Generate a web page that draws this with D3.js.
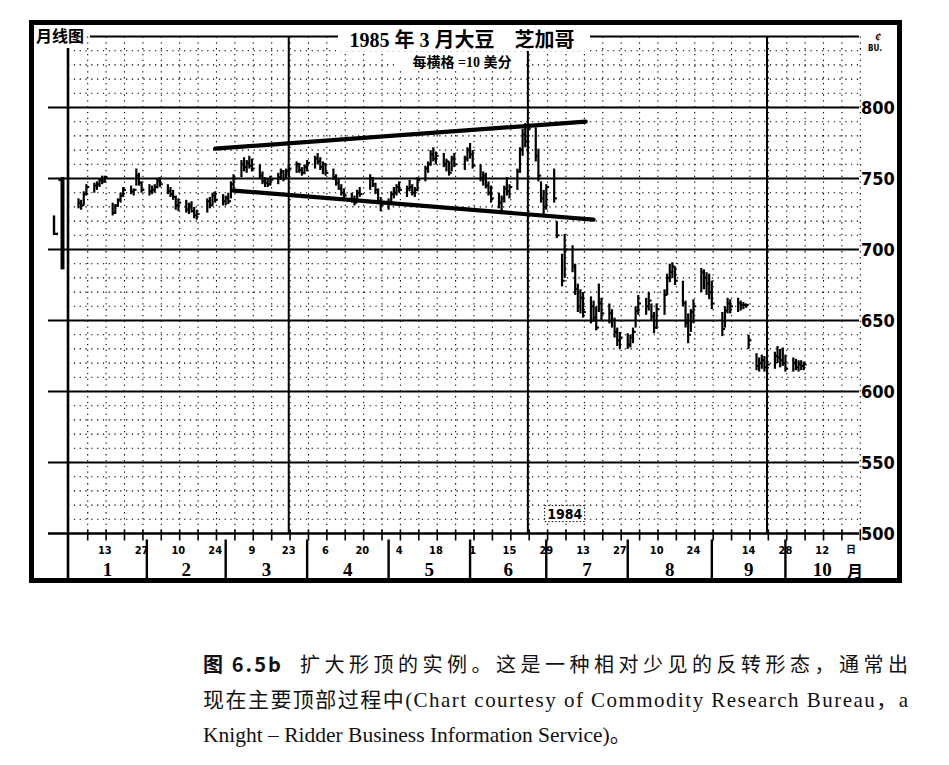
<!DOCTYPE html>
<html><head><meta charset="utf-8">
<script src="https://cdn.jsdelivr.net/npm/d3@7/dist/d3.min.js"></script>
<style>body{margin:0;background:#fff}</style>
</head><body><svg id="c" width="949" height="765"></svg>
<script>
// ---- data (1984 daily bars, March 1985 soybeans, cents/bu) ----
const dates = [
"1-3","1-4","1-5","1-6",
"1-9","1-10","1-11","1-12","1-13",
"1-16","1-17","1-18","1-19","1-20",
"1-23","1-24","1-25","1-26","1-27",
"1-30","1-31","2-1","2-2","2-3",
"2-6","2-7","2-8","2-9","2-10",
"2-13","2-14","2-15","2-16","2-17",
"2-21","2-22","2-23","2-24",
"2-27","2-28","2-29","3-1","3-2",
"3-5","3-6","3-7","3-8","3-9",
"3-12","3-13","3-14","3-15","3-16",
"3-19","3-20","3-21","3-22","3-23",
"3-26","3-27","3-28","3-29","3-30",
"4-2","4-3","4-4","4-5","4-6",
"4-9","4-10","4-11","4-12","4-13",
"4-16","4-17","4-18","4-19",
"4-23","4-24","4-25","4-26","4-27",
"4-30","5-1","5-2","5-3","5-4",
"5-7","5-8","5-9","5-10","5-11",
"5-14","5-15","5-16","5-17","5-18",
"5-21","5-22","5-23","5-24","5-25",
"5-29","5-30","5-31","6-1",
"6-4","6-5","6-6","6-7","6-8",
"6-11","6-12","6-13","6-14","6-15",
"6-18","6-19","6-20","6-21","6-22",
"6-25","6-26","6-27","6-28","6-29",
"7-2","7-3","7-5","7-6",
"7-9","7-10","7-11","7-12","7-13",
"7-16","7-17","7-18","7-19","7-20",
"7-23","7-24","7-25","7-26","7-27",
"7-30","7-31","8-1","8-2","8-3",
"8-6","8-7","8-8","8-9","8-10",
"8-13","8-14","8-15","8-16","8-17",
"8-20","8-21","8-22","8-23","8-24",
"8-27","8-28","8-29","8-30","8-31",
"9-4","9-5","9-6","9-7",
"9-10","9-11","9-12","9-13","9-14",
"9-17","9-18","9-19","9-20","9-21",
"9-24","9-25","9-26","9-27","9-28",
"10-1","10-2","10-3","10-4","10-5"];
const highs = [
736,735,741,746,
747,748,750,752,752,
733,732,736,740,744,
745,743,757,754,748,
746,745,746,750,751,
746,744,742,738,736,
735,733,734,730,728,
736,737,740,741,
739,738,740,748,753,
763,765,763,766,764,
760,755,751,750,752,
754,757,756,757,760,
762,761,758,760,763,
766,768,765,762,761,
757,753,750,746,743,
740,738,742,744,
753,751,747,743,737,
736,741,744,746,748,
745,749,746,744,751,
759,762,770,772,769,
768,764,762,766,768,
766,772,775,770,
760,755,754,748,745,
740,738,745,751,746,
757,772,785,789,788,
786,771,748,742,746,
757,720,697,711,
703,690,676,672,670,
667,664,660,676,666,
662,658,652,645,642,
641,640,645,660,668,
666,670,662,656,662,
672,683,690,691,688,
678,664,655,658,665,
687,686,684,683,678,
656,660,666,665,
666,664,663,662,640,
627,624,626,625,622,
628,632,630,631,626,
624,623,622,622,621];
const lows = [
729,728,731,738,
740,742,744,746,747,
724,725,730,733,737,
739,738,745,745,740,
738,739,740,743,744,
739,737,735,728,727,
726,725,726,722,721,
726,729,731,733,
731,731,732,736,742,
751,755,754,757,755,
750,746,744,744,745,
746,749,748,750,752,
754,754,752,753,755,
757,760,756,753,752,
749,745,742,738,735,
733,731,734,737,
742,744,739,732,727,
728,732,736,738,740,
737,741,738,737,741,
748,754,759,762,760,
758,755,752,755,758,
756,762,764,757,
748,745,743,738,733,
729,727,733,738,736,
742,754,766,772,768,
762,748,733,725,728,
733,708,674,680,
684,668,656,655,652,
648,649,643,656,650,
648,645,638,632,630,
630,631,634,645,654,
654,657,650,641,644,
654,668,677,680,675,
660,645,634,642,648,
670,672,668,665,658,
639,645,655,655,
656,657,658,659,630,
615,614,616,614,613,
616,620,617,618,614,
614,615,614,615,615];
const closes = [
733,731,739,744,
745,746,749,748,751,
726,731,735,738,742,
741,742,752,747,742,
741,742,744,748,746,
741,739,737,731,733,
728,731,727,724,725,
734,731,738,735,
734,736,734,746,750,
760,758,761,759,757,
752,748,747,746,749,
751,755,750,755,757,
760,756,754,758,761,
764,762,758,760,754,
751,747,743,740,738,
735,733,740,739,
750,746,742,734,731,
733,739,740,744,742,
743,744,740,742,749,
757,760,767,764,766,
760,762,754,764,760,
764,770,767,759,
750,752,745,740,736,
733,736,743,741,744,
755,770,781,776,785,
766,752,736,730,744,
736,710,678,700,
688,672,660,666,656,
660,652,645,662,655,
655,650,642,636,638,
633,638,642,657,662,
660,664,653,645,658,
668,680,684,688,678,
662,648,640,656,660,
684,680,676,670,662,
644,657,662,660,
662,661,661,661,636,
618,620,622,617,619,
625,624,622,620,616,
620,617,619,618,619];

// monthly inset (月线图): previous two months
const monthlyKeys = ["m1","m2"];
const monthlyHigh = [724, 751];
const monthlyLow = [711, 686];
const monthlyClose = [711, null];
const monthlyOpen = [null, 749];

const priceTicks = [500,550,600,650,700,750,800];
const dayLabelDates = ["1-13","1-27","2-10","2-24","3-9","3-23","4-6","4-20","5-4","5-18","6-1","6-15","6-29","7-13","7-27","8-10","8-24","9-14","9-28","10-12"];
const monthNames = ["1","2","3","4","5","6","7","8","9","10"];
const monthBounds = ["1983-12-30","1984-01-29","1984-02-28","1984-03-30","1984-04-30","1984-05-31","1984-06-29","1984-07-30","1984-08-31","1984-09-28","1984-10-26"];
const quarterLines = ["3-23","6-22","9-21"];
const trendUpper = [["2-24",771],["7-14",790]];
const trendLower = [["3-02",741.5],["7-17",721]];
const yearLabel = {date:"7-6", price:514, text:"1984"};

const title = "1985 年 3 月大豆　芝加哥";
const subtitle = "每横格 =10 美分";
const captionFig = "图 6.5b";
const captionLine1 = "扩大形顶的实例。这是一种相对少见的反转形态，通常出";
const captionLine2 = "现在主要顶部过程中(Chart courtesy of Commodity Research Bureau，a";
const captionLine3 = "Knight – Ridder Business Information Service)。";

// ---- helpers ----
const pd = s => { const [m,d] = s.split("-").map(Number); return new Date(1984, m-1, d, 12); };
const pdf = s => { const [y,m,d] = s.split("-").map(Number); return new Date(y, m-1, d, 12); };
const bars = dates.map((s,i)=>({d:pd(s),h:highs[i],l:lows[i],c:closes[i]}));

const svg = d3.select("#c");
const x = d3.scaleTime().domain([new Date(1983,11,30,12), new Date(1984,9,26,12)]).range([68, 859]);
const y = d3.scaleLinear().domain([500, 850]).range([533.5, 36.5]);
const xLeftExt = 48;

const fridays = d3.timeDay.range(new Date(1984,0,6,12), new Date(1984,9,27,12), 7);

const serif = "'Liberation Serif','Noto Sans CJK SC',serif";
const cjk = "'Noto Sans CJK SC','Liberation Serif',sans-serif";
const cond = "'Liberation Sans Narrow','DejaVu Sans Condensed','Liberation Sans',sans-serif";

// frame
svg.append("rect").attr("x",31.5).attr("y",22.5).attr("width",868).attr("height",558)
  .attr("fill","none").attr("stroke","#000").attr("stroke-width",5);

const g = svg.append("g");

// minor horizontal dotted (every 10c)
const minor = d3.range(510, 850, 10).filter(v => v % 50 !== 0);
g.selectAll(".hm").data(minor).join("line")
  .attr("x1",68).attr("x2",859).attr("y1",d=>y(d)).attr("y2",d=>y(d))
  .attr("stroke","#000").attr("stroke-width",1.1).attr("stroke-dasharray","1.3,4.5");

// weekly vertical dotted
g.selectAll(".vw").data(fridays).join("line")
  .attr("x1",d=>x(d)).attr("x2",d=>x(d)).attr("y1",y(850)).attr("y2",y(500))
  .attr("stroke","#000").attr("stroke-width",1.1).attr("stroke-dasharray","1.3,4.5");

// major horizontal lines
g.selectAll(".hM").data(priceTicks.filter(v=>v>500)).join("line")
  .attr("x1",xLeftExt).attr("x2",859).attr("y1",d=>y(d)).attr("y2",d=>y(d))
  .attr("stroke","#000").attr("stroke-width",2);
// top (850) line
g.append("line").attr("x1",90).attr("x2",859).attr("y1",y(850)).attr("y2",y(850))
  .attr("stroke","#000").attr("stroke-width",2);
// bottom axis (500)
g.append("line").attr("x1",xLeftExt).attr("x2",859).attr("y1",y(500)).attr("y2",y(500))
  .attr("stroke","#000").attr("stroke-width",2.6);

// quarter vertical lines
g.selectAll(".vq").data(quarterLines).join("line")
  .attr("x1",d=>x(pd(d))).attr("x2",d=>x(pd(d))).attr("y1",y(850)).attr("y2",y(500))
  .attr("stroke","#000").attr("stroke-width",2);

// left axis line
g.append("line").attr("x1",68).attr("x2",68).attr("y1",48).attr("y2",578)
  .attr("stroke","#000").attr("stroke-width",2.6);

// weekly ticks on bottom axis
g.selectAll(".tk").data(fridays).join("line")
  .attr("x1",d=>x(d)).attr("x2",d=>x(d)).attr("y1",y(500)-4).attr("y2",y(500)+7)
  .attr("stroke","#000").attr("stroke-width",1.6);

// month separators
g.selectAll(".ms").data(monthBounds.slice(1,-1)).join("line")
  .attr("x1",d=>x(pdf(d))).attr("x2",d=>x(pdf(d))).attr("y1",y(500)+6).attr("y2",578)
  .attr("stroke","#000").attr("stroke-width",2.4);

// title mask + title
g.append("rect").attr("x",338).attr("y",27).attr("width",252).attr("height",24).attr("fill","#fff");
svg.append("text").attr("x",462).attr("y",47).attr("text-anchor","middle")
  .attr("font-family",serif).attr("font-weight","bold").attr("font-size",20).text(title);
g.append("rect").attr("x",398).attr("y",54).attr("width",128).attr("height",16).attr("fill","#fff");
svg.append("text").attr("x",462).attr("y",67).attr("text-anchor","middle")
  .attr("font-family",serif).attr("font-weight","bold").attr("font-size",14).text(subtitle);

// 月线图 label
svg.append("text").attr("x",36).attr("y",42).attr("font-family",cjk).attr("font-weight","bold")
  .attr("font-size",16).text("月线图");

// right axis labels
svg.selectAll(".yl").data(priceTicks).join("text")
  .attr("x",861).attr("y",d=>y(d)).attr("dy","0.36em")
  .attr("font-family",cond).attr("font-weight","bold").attr("font-size",18).attr("font-stretch","condensed")
  .text(d=>d);
svg.append("text").attr("x",875).attr("y",41).attr("font-family",serif).attr("font-weight","bold")
  .attr("font-size",12).attr("font-style","italic").text("¢");
svg.append("text").attr("x",868).attr("y",51).attr("font-family",cond).attr("font-weight","bold")
  .attr("font-size",8).text("BU.");

// day labels
svg.selectAll(".dl").data(dayLabelDates).join("text")
  .attr("x",d=>x(pd(d))).attr("y",554).attr("text-anchor","middle")
  .attr("font-family",cond).attr("font-weight","bold").attr("font-size",11)
  .text(d=>d.split("-")[1]);
svg.append("text").attr("x",851).attr("y",553).attr("text-anchor","middle")
  .attr("font-family",cjk).attr("font-weight","bold").attr("font-size",10).text("日");

// month labels
svg.selectAll(".mlab").data(monthNames).join("text")
  .attr("x",(d,i)=> (x(pdf(monthBounds[i])) + x(pdf(monthBounds[i+1])))/2)
  .attr("y",576).attr("text-anchor","middle")
  .attr("font-family",serif).attr("font-weight","bold").attr("font-size",19)
  .text(d=>d);
svg.append("text").attr("x",855).attr("y",577).attr("text-anchor","middle")
  .attr("font-family",cjk).attr("font-weight","bold").attr("font-size",16).text("月");

// year label
const yl = svg.append("g");
const ylx = x(pd(yearLabel.date)), yly = y(yearLabel.price);
yl.append("rect").attr("x",ylx-20).attr("y",yly-8).attr("width",40).attr("height",16)
  .attr("fill","#fff").attr("stroke","#000").attr("stroke-width",1).attr("stroke-dasharray","1.5,2");
yl.append("text").attr("x",ylx).attr("y",yly).attr("dy","0.36em").attr("text-anchor","middle")
  .attr("font-family",cond).attr("font-weight","bold").attr("font-size",14).text(yearLabel.text);

// monthly inset bars
const xm = d3.scalePoint().domain(monthlyKeys).range([54, 62.5]);
monthlyKeys.forEach((k,i)=>{
  const xx = xm(k);
  svg.append("line").attr("x1",xx).attr("x2",xx).attr("y1",y(monthlyHigh[i])).attr("y2",y(monthlyLow[i]))
    .attr("stroke","#000").attr("stroke-width", i===1?4:2.4);
  if (monthlyClose[i]!=null) svg.append("line").attr("x1",xx-1).attr("x2",xx+4)
    .attr("y1",y(monthlyClose[i])).attr("y2",y(monthlyClose[i])).attr("stroke","#000").attr("stroke-width",2.4);
  if (monthlyOpen[i]!=null) svg.append("line").attr("x1",xx-4).attr("x2",xx+1)
    .attr("y1",y(monthlyOpen[i])).attr("y2",y(monthlyOpen[i])).attr("stroke","#000").attr("stroke-width",2.4);
});

// price bars
const pb = svg.append("g");
pb.selectAll(".b").data(bars).join("line")
  .attr("x1",d=>x(d.d)).attr("x2",d=>x(d.d)).attr("y1",d=>y(d.h)).attr("y2",d=>y(d.l))
  .attr("stroke","#000").attr("stroke-width",2.2);
pb.selectAll(".cl").data(bars).join("line")
  .attr("x1",d=>x(d.d)).attr("x2",d=>x(d.d)+2.8).attr("y1",d=>y(d.c)).attr("y2",d=>y(d.c))
  .attr("stroke","#000").attr("stroke-width",2);

// trend lines
[trendUpper, trendLower].forEach(t=>{
  svg.append("line").attr("x1",x(pd(t[0][0]))).attr("y1",y(t[0][1]))
    .attr("x2",x(pd(t[1][0]))).attr("y2",y(t[1][1]))
    .attr("stroke","#000").attr("stroke-width",4.2).attr("stroke-linecap","round");
});

// caption
svg.append("text").attr("x",203).attr("y",672).attr("font-family",cjk).attr("font-weight","bold")
  .attr("font-size",20).attr("fill","#111").attr("textLength",78).attr("lengthAdjust","spacing").text(captionFig);
svg.append("text").attr("x",300).attr("y",672).attr("font-family",cjk)
  .attr("font-size",20).attr("fill","#111").attr("textLength",608).attr("lengthAdjust","spacing").text(captionLine1);
svg.append("text").attr("x",203).attr("y",707).attr("font-family",serif)
  .attr("font-size",21).attr("fill","#111").attr("textLength",705).attr("lengthAdjust","spacing").text(captionLine2);
svg.append("text").attr("x",203).attr("y",742).attr("font-family",serif)
  .attr("font-size",21.5).attr("fill","#111").text(captionLine3);
</script>
</body></html>
